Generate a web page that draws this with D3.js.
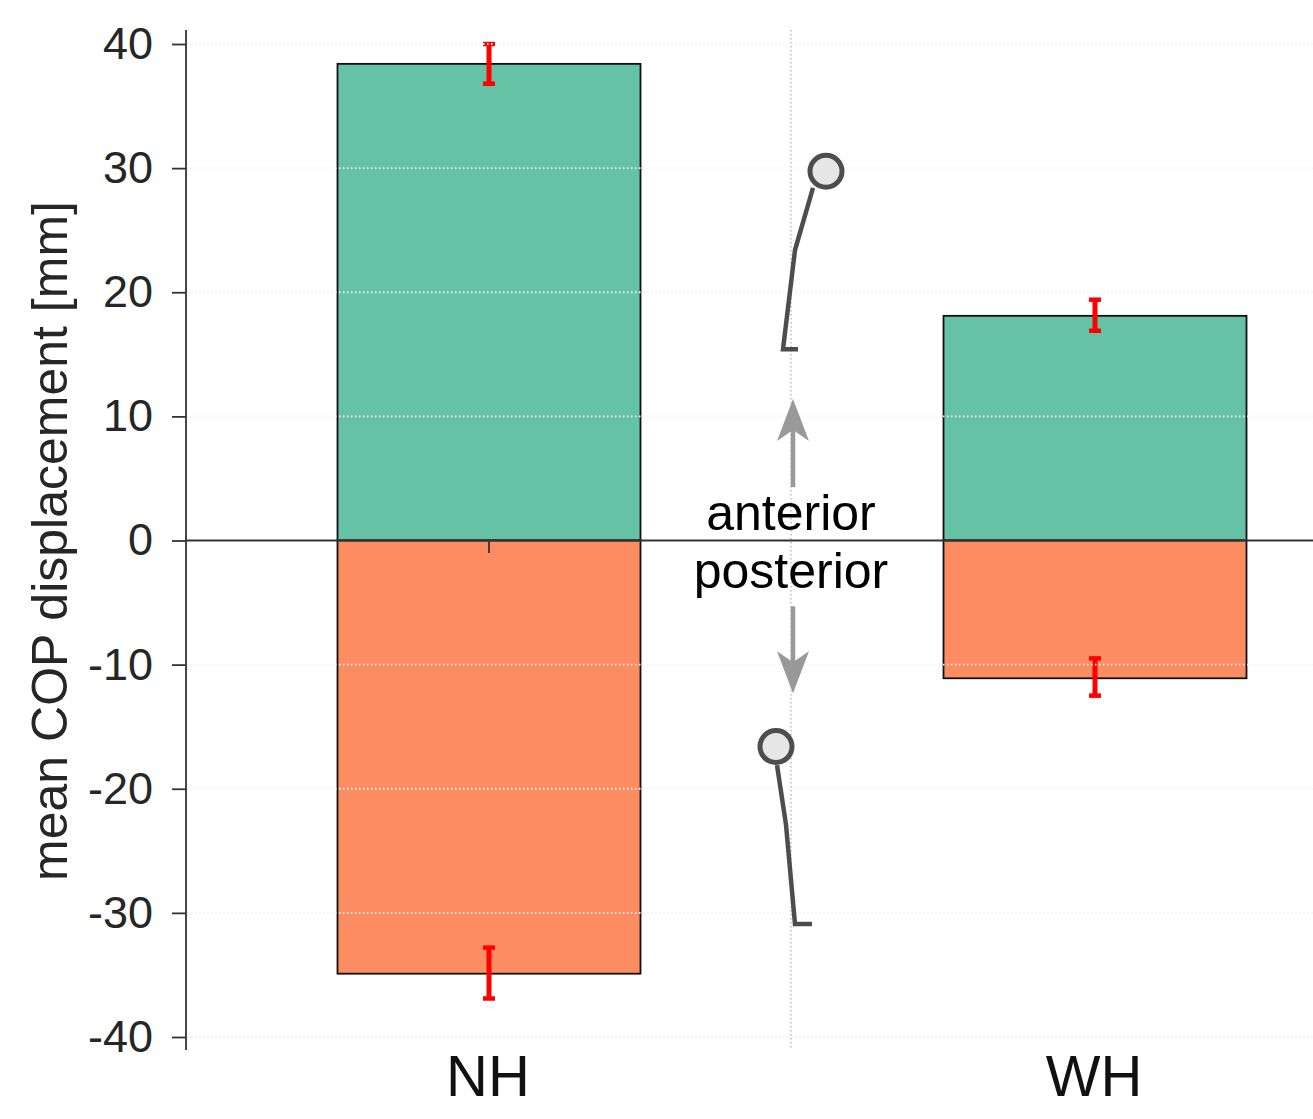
<!DOCTYPE html>
<html>
<head>
<meta charset="utf-8">
<script src="https://cdn.jsdelivr.net/npm/d3@7"></script>
<style>
  body { margin: 0; background: #fff; }
  svg { display: block; font-family: "Liberation Sans", Arial, sans-serif; }
</style>
</head>
<body>
<div id="chart"></div>
<script>
// values
var categories = ["NH", "gap", "WH"];
var tickLabels = ["NH", "", "WH"];
var yTicks = [-40, -30, -20, -10, 0, 10, 20, 30, 40];
var anteriorValues = [38.4, 18.1];
var posteriorValues = [-34.9, -11.1];
var anteriorErrors = [[36.8, 40.0], [16.9, 19.4]];
var posteriorErrors = [[-36.9, -32.8], [-12.5, -9.5]];
var barCategories = ["NH", "WH"];

// little stick figures, x in category units, y in mm
var figureUp = [[1.0693, 28.4], [1.0099, 23.4], [0.9703, 15.4], [1.0198, 15.4]];
var headUp = [1.1122, 29.75];
var figureDown = [[0.9505, -18.1], [0.9802, -22.9], [1.0099, -30.9], [1.066, -30.9]];
var headDown = [0.9472, -16.6];

var width = 1313, height = 1119;
var svg = d3.select("#chart").append("svg").attr("width", width).attr("height", height);

var yScale = d3.scaleLinear().domain([-40, 40]).range([1037, 44]);
var xPos = d3.scaleLinear().domain([0, 2]).range([489, 1095]);
var barWidth = 303;

// vertical divider sits under the figures
svg.append("line")
    .attr("x1", 791).attr("x2", 791)
    .attr("y1", 30).attr("y2", 1050)
    .attr("stroke", "#bbb").attr("stroke-width", 1.5)
    .attr("stroke-dasharray", "1.5,2.5");

function drawBars(values, color) {
    svg.selectAll(null)
        .data(values)
        .enter()
        .append("rect")
        .attr("x", function(d, i) { return xPos(categories.indexOf(barCategories[i])) - barWidth / 2; })
        .attr("y", function(d) { return yScale(Math.max(d, 0)); })
        .attr("width", barWidth)
        .attr("height", function(d) { return Math.abs(yScale(d) - yScale(0)); })
        .attr("fill", color)
        .attr("stroke", "#111")
        .attr("stroke-width", 1.8);
}
drawBars(anteriorValues, "#66c2a5");
drawBars(posteriorValues, "#fc8d62");

function drawErrors(errors) {
    errors.forEach(function(e, i) {
        var x = xPos(categories.indexOf(barCategories[i]));
        var g = svg.append("g").attr("stroke", "#ff0000");
        g.append("line").attr("x1", x).attr("x2", x)
            .attr("y1", yScale(e[0])).attr("y2", yScale(e[1]))
            .attr("stroke-width", 5);
        e.forEach(function(v) {
            g.append("line").attr("x1", x - 6).attr("x2", x + 6)
                .attr("y1", yScale(v)).attr("y2", yScale(v))
                .attr("stroke-width", 4.5);
        });
    });
}
drawErrors(anteriorErrors);
drawErrors(posteriorErrors);

// dotted grid goes over the bars
svg.selectAll(".grid")
    .data(yTicks.filter(function(d) { return d != 0; }))
    .enter()
    .append("line")
    .attr("class", "grid")
    .attr("x1", 187).attr("x2", width)
    .attr("y1", function(d) { return yScale(d); })
    .attr("y2", function(d) { return yScale(d); })
    .attr("stroke", "#f2f2f2").attr("stroke-width", 1.8)
    .attr("stroke-dasharray", "1.5,2.5");

// zero line and the small tick under NH
svg.append("line")
    .attr("x1", 186).attr("x2", width)
    .attr("y1", yScale(0)).attr("y2", yScale(0))
    .attr("stroke", "#333").attr("stroke-width", 1.8);
svg.append("line")
    .attr("x1", xPos(0)).attr("x2", xPos(0))
    .attr("y1", yScale(0)).attr("y2", yScale(-1))
    .attr("stroke", "#333").attr("stroke-width", 1.8);

// y axis
var yAxis = d3.axisLeft(yScale).tickValues(yTicks).tickSize(14).tickPadding(19).tickSizeOuter(0)
    .tickFormat(function(d) { return String(d); });
var yG = svg.append("g").attr("transform", "translate(186,0)").call(yAxis);
yG.select(".domain").remove();
yG.selectAll(".tick line").attr("stroke", "#333").attr("stroke-width", 1.8);
yG.selectAll(".tick text").attr("fill", "#262626").style("font-size", "45px").style("font-family", "inherit");
svg.append("line")
    .attr("x1", 186).attr("x2", 186)
    .attr("y1", 30).attr("y2", 1050)
    .attr("stroke", "#333").attr("stroke-width", 1.8);

svg.append("text")
    .attr("transform", "translate(67,541) rotate(-90)")
    .attr("text-anchor", "middle")
    .attr("fill", "#262626")
    .style("font-size", "50px")
    .text("mean COP displacement [mm]");

// category labels
svg.selectAll(".cat")
    .data(categories)
    .enter()
    .append("text")
    .attr("class", "cat")
    .attr("x", function(d, i) { return xPos(i) - 1; })
    .attr("y", 1096)
    .attr("text-anchor", "middle")
    .attr("fill", "#111")
    .style("font-size", "58px")
    .text(function(d, i) { return tickLabels[i]; });

// middle annotation
svg.append("text").attr("x", 791).attr("y", 530).attr("text-anchor", "middle")
    .attr("fill", "#000").style("font-size", "50px").text("anterior");
svg.append("text").attr("x", 791).attr("y", 588).attr("text-anchor", "middle")
    .attr("fill", "#000").style("font-size", "50px").text("posterior");

// arrows: [tip, tail] in mm, head drawn relative to tip
function drawArrow(tipVal, tailVal) {
    var dir = tailVal < tipVal ? 1 : -1;
    var x = 793, tip = yScale(tipVal), tail = yScale(tailVal);
    svg.append("line").attr("x1", x).attr("x2", x)
        .attr("y1", tail).attr("y2", tip + dir * 30)
        .attr("stroke", "#999").attr("stroke-width", 4.5);
    svg.append("path")
        .attr("d", "M" + x + "," + tip +
            "L" + (x + 16) + "," + (tip + dir * 42) +
            "L" + x + "," + (tip + dir * 31) +
            "L" + (x - 16) + "," + (tip + dir * 42) + "Z")
        .attr("fill", "#999");
}
drawArrow(11.4, 4.3);
drawArrow(-12.3, -5.3);

// stick figures
var figLine = d3.line()
    .x(function(d) { return xPos(d[0]); })
    .y(function(d) { return yScale(d[1]); });

function drawFigure(points, head) {
    svg.append("path").attr("d", figLine(points))
        .attr("fill", "none").attr("stroke", "#4d4d4d").attr("stroke-width", 4.5);
    svg.append("circle")
        .attr("cx", xPos(head[0])).attr("cy", yScale(head[1])).attr("r", 16)
        .attr("fill", "#e6e6e6").attr("stroke", "#4d4d4d").attr("stroke-width", 5);
}
drawFigure(figureUp, headUp);
drawFigure(figureDown, headDown);
</script>
</body>
</html>
